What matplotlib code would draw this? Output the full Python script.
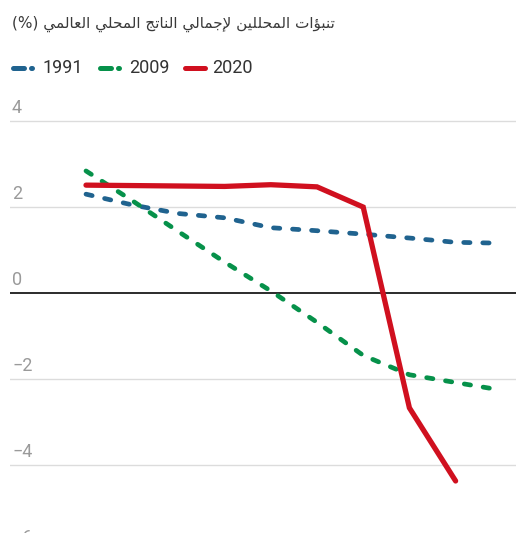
import matplotlib
matplotlib.use("Agg")
import matplotlib.pyplot as plt

###########################
# data
months = list(range(10))
gdp_1991 = [2.30, 2.05, 1.85, 1.75, 1.52, 1.45, 1.37, 1.28, 1.18, 1.16]
gdp_2009 = [2.84, 2.15, 1.43, 0.72, 0.05, -0.68, -1.45, -1.90, -2.08, -2.26]
gdp_2020 = [2.51, 2.50, 2.49, 2.48, 2.52, 2.47, 2.00, -2.67, -4.37]
y_ticks = [4, 2, 0, -2, -4, -6]
series_labels = ["1991", "2009", "2020"]
subtitle = "تنبؤات المحللين لإجمالي الناتج المحلي العالمي"

blue = "#20638f"
green = "#06914a"
red = "#d0101f"

###########################
# minimal arabic shaping (matplotlib has no complex text layout)
# char: (isolated, final, initial, medial); None = does not join to the left
FORMS = {
    "\u0627": ("\uFE8D", "\uFE8E", None, None),
    "\u0625": ("\uFE87", "\uFE88", None, None),
    "\u0624": ("\uFE85", "\uFE86", None, None),
    "\u0628": ("\uFE8F", "\uFE90", "\uFE91", "\uFE92"),
    "\u062A": ("\uFE95", "\uFE96", "\uFE97", "\uFE98"),
    "\u062C": ("\uFE9D", "\uFE9E", "\uFE9F", "\uFEA0"),
    "\u062D": ("\uFEA1", "\uFEA2", "\uFEA3", "\uFEA4"),
    "\u0639": ("\uFEC9", "\uFECA", "\uFECB", "\uFECC"),
    "\u0644": ("\uFEDD", "\uFEDE", "\uFEDF", "\uFEE0"),
    "\u0645": ("\uFEE1", "\uFEE2", "\uFEE3", "\uFEE4"),
    "\u0646": ("\uFEE5", "\uFEE6", "\uFEE7", "\uFEE8"),
    "\u064A": ("\uFEF1", "\uFEF2", "\uFEF3", "\uFEF4"),
}
LAM_ALEF = {"\u0627": ("\uFEFB", "\uFEFC"), "\u0625": ("\uFEF9", "\uFEFA")}


def joins_left(tok):
    return isinstance(tok, str) and FORMS[tok][2] is not None


def shape_word(word):
    tokens = []
    i = 0
    while i < len(word):
        if word[i] == "\u0644" and i + 1 < len(word) and word[i + 1] in LAM_ALEF:
            tokens.append(("LA", word[i + 1]))
            i += 2
        else:
            tokens.append(word[i])
            i += 1
    out = []
    for j, tok in enumerate(tokens):
        prev = j > 0 and joins_left(tokens[j - 1])
        if isinstance(tok, tuple):
            out.append(LAM_ALEF[tok[1]][1 if prev else 0])
            continue
        nxt = j < len(tokens) - 1 and joins_left(tok)
        iso, fin, ini, med = FORMS[tok]
        if prev and nxt:
            out.append(med)
        elif prev:
            out.append(fin)
        elif nxt:
            out.append(ini)
        else:
            out.append(iso)
    return "".join(reversed(out))


def shape_rtl(text):
    return " ".join(shape_word(w) for w in reversed(text.split()))


###########################
W, H = 516, 533
fig = plt.figure(figsize=(W / 100, H / 100), dpi=100)
fig.patch.set_facecolor("white")

# main axes: x index 0 sits at px 86, step ~46.2 px; y 0 at px 293, 43 px/unit
ax = fig.add_axes([10 / W, 0, 506 / W, 433 / H])
ax.set_xlim(-1.645, 9.307)
ax.set_ylim(-5.58, 4.49)
ax.axis("off")

for v in y_ticks:
    if v == 0:
        ax.axhline(v, color="#2b2b2b", lw=1.4, zorder=1)
    else:
        ax.axhline(v, color="#dcdcdc", lw=1.0, zorder=0)
    lab = str(v).replace("-", "\u2212")
    ax.text(0.004, v + 8 / 43, lab, transform=ax.get_yaxis_transform(),
            ha="left", va="baseline", fontsize=13, color="#9a9a9a",
            family="Roboto", clip_on=False)

dash = (1.34, 2.7)
ax.plot(months, gdp_1991, color=blue, lw=3.4, dashes=dash,
        dash_capstyle="round", zorder=3)
ax.plot(months, gdp_2009, color=green, lw=3.4, dashes=dash,
        dash_capstyle="round", zorder=3)
ax.plot(months[:len(gdp_2020)], gdp_2020, color=red, lw=3.8,
        solid_joinstyle="miter", solid_capstyle="round", zorder=4)

###########################
# overlay in pixel coordinates for subtitle and legend
ov = fig.add_axes([0, 0, 1, 1])
ov.set_xlim(0, W)
ov.set_ylim(H, 0)
ov.axis("off")
ov.patch.set_alpha(0)

ov.text(12, 24, "(%) " + shape_rtl(subtitle), ha="left", va="center",
        fontsize=11, color="#3a3a3a", family="DejaVu Sans")

ly = 68
for col, x0, lab in [(blue, 10, series_labels[0]), (green, 97, series_labels[1])]:
    ov.plot([x0 + 2.5, x0 + 13.5], [ly, ly], color=col, lw=3.6,
            solid_capstyle="round")
    ov.plot([x0 + 21.3, x0 + 21.7], [ly, ly], color=col, lw=3.6,
            solid_capstyle="round")
    ov.text(x0 + 32, ly, lab, ha="left", va="center", fontsize=13,
            color="#333333", family="Roboto")
ov.plot([184.5, 204.5], [ly, ly], color=red, lw=3.6, solid_capstyle="round")
ov.text(212, ly, series_labels[2], ha="left", va="center", fontsize=13,
        color="#333333", family="Roboto")

fig.savefig("out.png", dpi=100, facecolor="white")
